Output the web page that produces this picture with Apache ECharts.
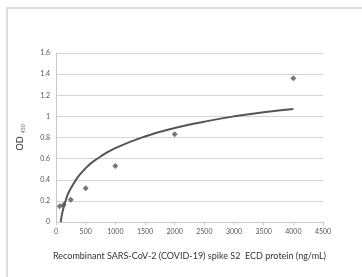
<!DOCTYPE html>
<html>
<head>
<meta charset="utf-8">
<script src="https://cdn.jsdelivr.net/npm/echarts@6/dist/echarts.min.js"></script>
<style>
html,body{margin:0;padding:0;background:#fff;}
#main{width:362px;height:277px;}
</style>
</head>
<body>
<div id="main"></div>
<script>
// 测量点 (ng/mL, OD450)
var conc = [62.5, 125, 250, 500, 1000, 2000, 4000];
var od = [0.15, 0.16, 0.21, 0.32, 0.53, 0.83, 1.36];
// 趋势线
var trendX = [80, 100, 150, 250, 500, 750, 1000, 1500, 2000, 2500, 3000, 3500, 4000];
var trendY = [0, 0.07, 0.18, 0.32, 0.51, 0.62, 0.70, 0.81, 0.89, 0.95, 1.00, 1.04, 1.07];
var xTicks = [0, 500, 1000, 1500, 2000, 2500, 3000, 3500, 4000, 4500];
var yTicks = [0, 0.2, 0.4, 0.6, 0.8, 1, 1.2, 1.4, 1.6];

var pts = conc.map(function(c, i) { return [c, od[i]]; });
var trend = trendX.map(function(c, i) { return [c, trendY[i]]; });

var myChart = echarts.init(document.getElementById('main'));
var font = 'Lato, "Open Sans", sans-serif';
option = {
	animation: false,
	backgroundColor: '#fff',
	graphic: [{
		type: 'polyline',
		shape: { points: [[7, 277], [7, 8], [362, 8]] },
		style: { stroke: '#dcdcdc', lineWidth: 2, fill: null }
	}],
	grid: { left: 56, right: 39, top: 53, bottom: 55 },
	xAxis: {
		type: 'value',
		min: xTicks[0],
		max: xTicks[xTicks.length - 1],
		interval: 500,
		name: 'Recombinant SARS-CoV-2 (COVID-19) spike S2  ECD protein (ng/mL)',
		nameLocation: 'middle',
		nameGap: 30,
		nameTextStyle: { fontFamily: font, fontSize: 9, color: '#333' },
		axisLine: { lineStyle: { color: '#c8c8c8', width: 1 } },
		axisTick: { show: true, length: 3, lineStyle: { color: '#c8c8c8' } },
		axisLabel: {
			fontFamily: font, fontSize: 7, color: '#555', margin: 6,
			formatter: function(v) { return String(v); }
		},
		splitLine: { show: false }
	},
	yAxis: {
		type: 'value',
		min: yTicks[0],
		max: yTicks[yTicks.length - 1],
		interval: 0.2,
		name: '{a|OD} {b|450}',
		nameLocation: 'middle',
		nameGap: 30,
		nameRotate: 90,
		nameTextStyle: {
			rich: {
				a: { fontFamily: font, fontSize: 9, color: '#333' },
				b: { fontFamily: font, fontSize: 5, color: '#666', verticalAlign: 'bottom', padding: [4, 0, 0, 0] }
			}
		},
		axisLine: { show: true, lineStyle: { color: '#c8c8c8', width: 1 } },
		axisTick: { show: false },
		axisLabel: {
			fontFamily: font, fontSize: 7, color: '#555', margin: 6,
			formatter: function(v) { return String(Math.round(v * 10) / 10); }
		},
		splitLine: { show: true, lineStyle: { color: '#d4d4d4', width: 1 } }
	},
	series: [
		{
			type: 'line',
			data: trend,
			smooth: true,
			showSymbol: false,
			lineStyle: { color: '#555', width: 2 },
			z: 2
		},
		{
			type: 'scatter',
			data: pts,
			symbol: 'diamond',
			symbolSize: 6,
			itemStyle: { color: '#555' },
			z: 3
		}
	]
};
myChart.setOption(option);
</script>
</body>
</html>
